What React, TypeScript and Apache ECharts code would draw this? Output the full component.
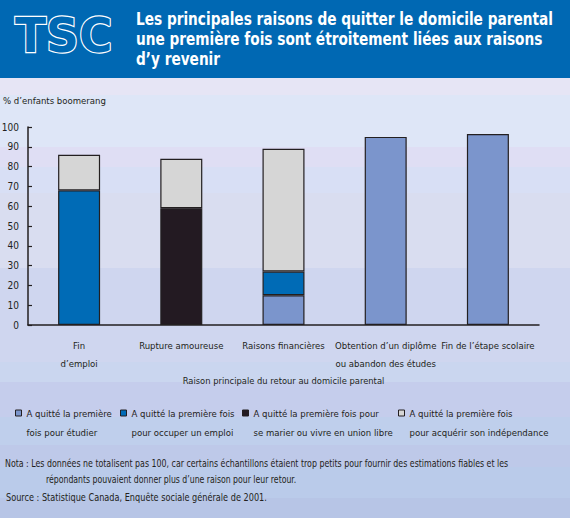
import React, { useEffect, useRef } from "react";
import * as echarts from "echarts";

// ---- data ----
const categories = [
  "Fin\nd’emploi",
  "Rupture amoureuse",
  "Raisons financières",
  "Obtention d’un diplôme\nou abandon des études",
  "Fin de l’étape scolaire",
];
const seriesNames = [
  "A quitté la première\nfois pour étudier",
  "A quitté la première fois\npour occuper un emploi",
  "A quitté la première fois pour\nse marier ou vivre en union libre",
  "A quitté la première fois\npour acquérir son indépendance",
];
const etudier = [null, null, 15, 95, 96.5];
const emploi = [68, null, 12, null, null];
const marier = [null, 59, null, null, null];
const independance = [18, 25, 62, null, null];
const yMin = 0;
const yMax = 100;
const yInterval = 10;

const titleText =
  "Les principales raisons de quitter le domicile parental\nune première fois sont étroitement liées aux raisons\nd’y revenir";
const yAxisName = "% d’enfants boomerang";
const xAxisName = "Raison principale du retour au domicile parental";
const noteLine1 =
  "Nota : Les données ne totalisent pas 100, car certains échantillons étaient trop petits pour fournir des estimations fiables et les";
const noteLine2 = "répondants pouvaient donner plus d’une raison pour leur retour.";
const sourceLine = "Source : Statistique Canada, Enquête sociale générale de 2001.";

// ---- styles ----
const FONT = "'DejaVu Sans Condensed', 'DejaVu Sans', sans-serif";
const DARK = "#231f20";
const HEADER = "#0068b3";
const COLORS = ["#7b95cc", "#006bb6", "#231a22", "#d6d6d6"];
const legendLefts = [15, 120, 242, 398];
const bands: [number, number, string][] = [
  [78, 95, "#e6e5f5"],
  [95, 147, "#dee6f7"],
  [147, 167, "#dfdef4"],
  [167, 193, "#d8dff5"],
  [193, 268, "#d9ddf0"],
  [268, 362, "#cfd6ef"],
  [362, 382, "#cad6ef"],
  [382, 417, "#c5cdec"],
  [417, 445, "#bfcfec"],
  [445, 467, "#bec9e9"],
  [467, 498, "#bacbea"],
  [498, 518, "#b7c5e6"],
];

export default function App() {
  const ref = useRef<HTMLDivElement>(null);
  useEffect(() => {
    if (!ref.current) return;
    const chart = echarts.init(ref.current, undefined, { renderer: "svg" });
    const dataSets = [etudier, emploi, marier, independance];
    const noteStyle = (text: string) => ({
      text,
      fontFamily: FONT,
      fontSize: 11,
      fill: DARK,
      verticalAlign: "middle",
    });
    const graphics: any[] = [
      ...bands.map(([y0, y1, c]) => ({
        type: "rect",
        z: -10,
        silent: true,
        shape: { x: 0, y: y0, width: 570, height: y1 - y0 },
        style: { fill: c },
      })),
      {
        type: "rect",
        z: -10,
        silent: true,
        shape: { x: 0, y: 0, width: 570, height: 78 },
        style: { fill: HEADER },
      },
      {
        type: "text",
        z: 10,
        x: 15,
        y: 12,
        scaleX: 0.95,
        style: {
          text: "TSC",
          fontFamily: "'DejaVu Sans', sans-serif",
          fontWeight: "bold",
          fontSize: 48,
          fill: HEADER,
          stroke: "#ffffff",
          lineWidth: 2.4,
          verticalAlign: "top",
        },
      },
      {
        type: "text",
        z: 10,
        x: 136,
        y: 9,
        scaleX: 0.845,
        style: {
          text: titleText,
          fontFamily: FONT,
          fontWeight: "bold",
          fontSize: 18,
          lineHeight: 20,
          fill: "#ffffff",
          verticalAlign: "top",
        },
      },
      { type: "text", z: 10, x: 5, y: 463, scaleX: 0.796, style: noteStyle(noteLine1) },
      { type: "text", z: 10, x: 46, y: 479, scaleX: 0.786, style: noteStyle(noteLine2) },
      { type: "text", z: 10, x: 6, y: 497, scaleX: 0.825, style: noteStyle(sourceLine) },
    ];

    chart.setOption({
      animation: false,
      graphic: { elements: graphics },
      legend: seriesNames.map((n, i) => ({
        data: [n],
        left: legendLefts[i],
        top: 384.5,
        padding: 0,
        icon: "rect",
        itemWidth: 6,
        itemHeight: 6,
        itemGap: 0,
        selectedMode: false,
        formatter: (name: string) => "\n" + name,
        itemStyle: { borderColor: DARK, borderWidth: 1 },
        textStyle: {
          fontFamily: FONT,
          fontSize: 9.5,
          color: DARK,
          lineHeight: 19,
        },
      })),
      grid: {
        left: 28,
        right: 33,
        top: 127,
        bottom: 195,
        containLabel: false,
        outerBoundsMode: "none",
      },
      xAxis: {
        type: "category",
        data: categories,
        name: xAxisName,
        nameLocation: "middle",
        nameGap: 51,
        nameTextStyle: { fontFamily: FONT, fontSize: 9.3, color: DARK },
        axisLine: { lineStyle: { color: DARK, width: 1.5 } },
        axisTick: { show: false },
        axisLabel: {
          interval: 0,
          fontFamily: FONT,
          fontSize: 9.5,
          color: DARK,
          lineHeight: 18,
          margin: 11,
        },
      },
      yAxis: {
        type: "value",
        min: yMin,
        max: yMax,
        interval: yInterval,
        name: yAxisName,
        nameLocation: "end",
        nameGap: 27,
        nameTextStyle: {
          fontFamily: FONT,
          fontSize: 9.5,
          color: DARK,
          align: "left",
          verticalAlign: "middle",
          padding: [0, 0, 0, -25],
        },
        axisLine: { show: true, lineStyle: { color: DARK, width: 1.5 } },
        axisTick: { show: true, inside: true, length: 4, lineStyle: { color: DARK, width: 1.2 } },
        splitLine: { show: false },
        axisLabel: { fontFamily: FONT, fontSize: 10, color: DARK, margin: 9 },
      },
      series: seriesNames.map((n, i) => ({
        name: n,
        type: "bar",
        stack: "total",
        barWidth: 42,
        data: dataSets[i],
        itemStyle: { color: COLORS[i], borderColor: DARK, borderWidth: 1.2 },
        emphasis: { disabled: true },
      })),
    });
    return () => chart.dispose();
  }, []);
  return (
    <div
      ref={ref}
      style={{ position: "fixed", left: 0, top: 0, width: 572, height: 520, background: "#ffffff" }}
    />
  );
}
